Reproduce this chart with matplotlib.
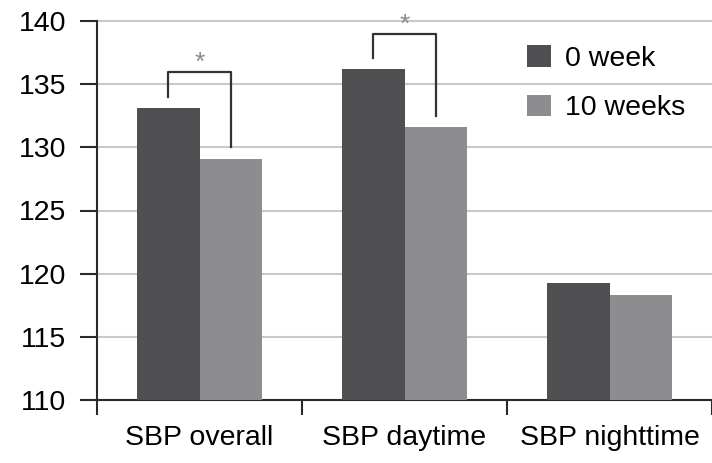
import numpy as np
import matplotlib
matplotlib.use("Agg")
import matplotlib.pyplot as plt

plt.rcParams['font.family'] = ['Liberation Sans', 'DejaVu Sans']

# --- data ---
categories = ['SBP overall', 'SBP daytime', 'SBP nighttime']
week0 = [133.1, 136.2, 119.3]
week10 = [129.1, 131.6, 118.3]
series_labels = ['0 week', '10 weeks']
yticks = [110, 115, 120, 125, 130, 135, 140]
# significance brackets: (category index, bracket top value)
sig = [(0, 136.0), (1, 139.0)]

dark = '#4f4f51'
light = '#8d8d8f'

fig = plt.figure(figsize=(7.12, 4.63), dpi=100)
ax = fig.add_axes([97 / 712, 1 - 400 / 463, 1 - 97 / 712, (400 - 21) / 463])

x = np.arange(len(categories))
w = 0.307
ax.bar(x - w / 2, week0, w, bottom=0, color=dark, label=series_labels[0], zorder=3)
ax.bar(x + w / 2, week10, w, bottom=0, color=light, label=series_labels[1], zorder=3)

ax.set_ylim(110, 140)
ax.set_xlim(-0.5, len(categories) - 0.5)
ax.set_yticks(yticks)
ax.set_yticklabels([str(v) for v in yticks], fontsize=20.5)

# category boundaries as x ticks, labels at centres
ax.set_xticks(np.arange(len(categories) + 1) - 0.5)
ax.set_xticklabels([])
ax.set_xticks(x, minor=True)
ax.set_xticklabels(categories, minor=True, fontsize=20.5)
ax.tick_params(axis='x', which='minor', length=0, pad=18)
ax.tick_params(axis='x', which='major', length=11, width=1.5, color='#2a2a2a')
ax.tick_params(axis='y', length=12, width=1.5, color='#2a2a2a', pad=10)

for v in yticks[1:]:
    ax.axhline(v, color='#c9c9c9', lw=1.5, zorder=1, clip_on=False)

for s in ['top', 'right']:
    ax.spines[s].set_visible(False)
for s in ['left', 'bottom']:
    ax.spines[s].set_linewidth(1.5)
    ax.spines[s].set_color('#2a2a2a')

# brackets
for i, top in sig:
    xl = i - w / 2
    xr = i + w / 2
    ax.plot([xl, xl, xr, xr], [week0[i] + 0.9, top, top, week10[i] + 0.9],
            color='#333333', lw=1.6, zorder=4, clip_on=False)
    ax.text(i, top + 0.7, '*', ha='center', va='center', fontsize=19,
            color='#8a8a8a', clip_on=False)

ax.legend(loc='upper left', bbox_to_anchor=(527 / 712, 1 - 45 / 463),
          bbox_transform=fig.transFigure, frameon=False, fontsize=20.5,
          borderpad=0, borderaxespad=0, handlelength=0.85, handleheight=0.8,
          handletextpad=0.5, labelspacing=0.8)

fig.savefig('out.png', dpi=100)
